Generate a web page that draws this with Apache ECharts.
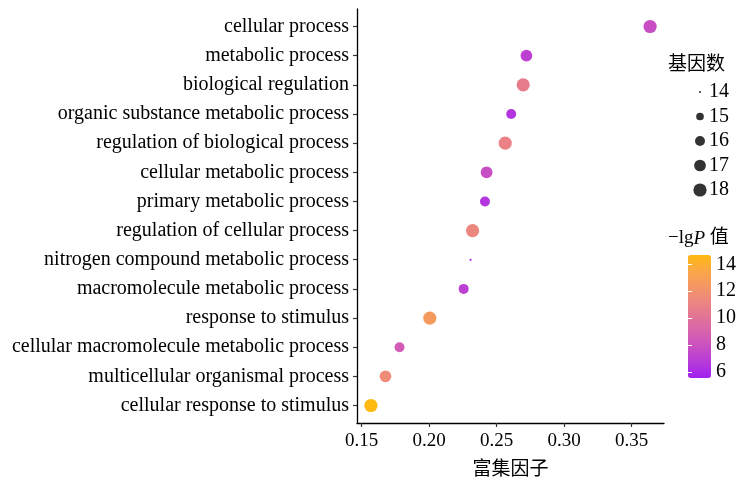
<!DOCTYPE html>
<html>
<head>
<meta charset="utf-8">
<script src="https://cdn.jsdelivr.net/npm/echarts@6/dist/echarts.min.js"></script>
<style>html,body{margin:0;padding:0;background:#fff}#c{width:739px;height:480px}</style>
</head>
<body>
<div id="c"></div>
<script>
// ---- data (bottom to top) ----
const categories = [
  'cellular response to stimulus',
  'multicellular organismal process',
  'cellular macromolecule metabolic process',
  'response to stimulus',
  'macromolecule metabolic process',
  'nitrogen compound metabolic process',
  'regulation of cellular process',
  'primary metabolic process',
  'cellular metabolic process',
  'regulation of biological process',
  'organic substance metabolic process',
  'biological regulation',
  'metabolic process',
  'cellular process'
];
const richFactor = [0.1569, 0.1677, 0.1781, 0.2005, 0.2256, 0.2307, 0.2322, 0.2414, 0.2426, 0.2564, 0.2608, 0.2697, 0.2721, 0.3637];
const geneCount  = [18, 17, 16, 18, 16, 14, 18, 16, 17, 18, 16, 18, 17, 18];
const negLogP    = [14.69, 11.6, 8.5, 12.6, 7.1, 5.56, 11.3, 6.5, 7.8, 10.9, 6.5, 10.6, 7.1, 7.8];
const xTicks = [0.15, 0.20, 0.25, 0.30, 0.35];
const sizeBreaks = [14, 15, 16, 17, 18];
const colorTicks = [6, 8, 10, 12, 14];
const colorStops = ['#A020F0','#B63ADA','#C84FC3','#D763AD','#E27496','#EC877F','#F49764','#FAA846','#FFB90F'];

const FONT = "'Liberation Serif', 'Noto Sans CJK SC', serif";
const CJK = "'Noto Sans CJK SC', 'Liberation Serif', sans-serif";
const sizeMin = 14, sizeMax = 18;
const lpMin = 5.56, lpMax = 14.69;
function dotSize(n) { return 2.2 * (1 + 5 * Math.sqrt((n - sizeMin) / (sizeMax - sizeMin))); }

const mainData = categories.map((c, i) => [richFactor[i], i, negLogP[i], geneCount[i]]);

const option = {
  animation: false,
  backgroundColor: '#fff',
  textStyle: { fontFamily: FONT },
  title: [
    { text: '基因数', left: 668, top: 53, padding: 0, textStyle: { fontFamily: CJK, fontSize: 19, fontWeight: 'normal', color: '#000' } },
    { text: '−lg{i|P} 值', left: 668, top: 229, padding: 0, textStyle: { fontFamily: FONT, fontSize: 19, fontWeight: 'normal', color: '#000',
        rich: { i: { fontStyle: 'italic', fontFamily: FONT, fontSize: 19, color: '#000' } } } }
  ],
  grid: [
    { left: 357, right: 75, top: 9, bottom: 57, outerBoundsMode: 'none' },
    { left: 692, width: 16, top: 79.75, height: 122.5, outerBoundsMode: 'none' },
    { left: 688, width: 23, top: 255, height: 123, outerBoundsMode: 'none' }
  ],
  xAxis: [
    { type: 'value', gridIndex: 0, min: 0.1466, max: 0.3740,
      name: '富集因子', nameLocation: 'middle', nameGap: 35,
      nameTextStyle: { fontFamily: CJK, fontSize: 19, color: '#000' },
      axisLine: { show: true, onZero: false, lineStyle: { color: '#000', width: 1.3 } },
      axisTick: { show: true, length: 4, lineStyle: { color: '#333', width: 1.2 }, customValues: xTicks },
      axisLabel: { customValues: xTicks, margin: 9, fontSize: 19, color: '#000', fontFamily: FONT,
        formatter: v => v.toFixed(2) },
      splitLine: { show: false } },
    { type: 'value', gridIndex: 1, min: -1, max: 1, show: false },
    { type: 'value', gridIndex: 2, min: 0, max: 1, show: false }
  ],
  yAxis: [
    { type: 'value', gridIndex: 0, min: -0.6, max: 13.6,
      axisLine: { show: true, onZero: false, lineStyle: { color: '#000', width: 1.3 } },
      axisTick: { show: true, length: 4, lineStyle: { color: '#333', width: 1.2 }, customValues: categories.map((c, i) => i) },
      axisLabel: { customValues: categories.map((c, i) => i), margin: 8, fontSize: 20, color: '#000', fontFamily: FONT,
        formatter: v => categories[Math.round(v)] },
      splitLine: { show: false } },
    { type: 'category', gridIndex: 1, inverse: true, position: 'right', data: sizeBreaks.map(String),
      axisLine: { show: false }, axisTick: { show: false },
      axisLabel: { interval: 0, margin: 1, fontSize: 20, color: '#000', fontFamily: FONT } },
    { type: 'value', gridIndex: 2, position: 'right', min: lpMin, max: lpMax, z: 10,
      axisLine: { show: false },
      axisTick: { show: true, inside: true, length: 4, lineStyle: { color: '#fff', width: 1 }, customValues: colorTicks },
      axisLabel: { customValues: colorTicks, margin: 5, fontSize: 20, color: '#000', fontFamily: FONT },
      splitLine: { show: false } },
    { type: 'value', gridIndex: 2, position: 'left', min: lpMin, max: lpMax, z: 10,
      axisLine: { show: false },
      axisTick: { show: true, inside: true, length: 4, lineStyle: { color: '#fff', width: 1 }, customValues: colorTicks },
      axisLabel: { show: false },
      splitLine: { show: false } }
  ],
  visualMap: [{
    type: 'continuous', seriesIndex: 0, dimension: 2, min: lpMin, max: lpMax,
    calculable: false, realtime: false, hoverLink: false,
    inRange: { color: colorStops },
    itemWidth: 23, itemHeight: 123, left: 688, top: 255, padding: 0,
    text: null, showLabel: false, z: 2
  }],
  series: [
    { type: 'scatter', xAxisIndex: 0, yAxisIndex: 0, data: mainData,
      symbolSize: v => dotSize(v[3]), itemStyle: { opacity: 1 }, emphasis: { disabled: true } },
    { type: 'scatter', xAxisIndex: 1, yAxisIndex: 1,
      data: sizeBreaks.map((s, i) => [0, i, s]),
      symbolSize: v => dotSize(v[2]), itemStyle: { color: '#000' }, emphasis: { disabled: true } }
  ]
};
echarts.init(document.getElementById('c'), null, { renderer: 'canvas' }).setOption(option);
</script>
</body>
</html>
